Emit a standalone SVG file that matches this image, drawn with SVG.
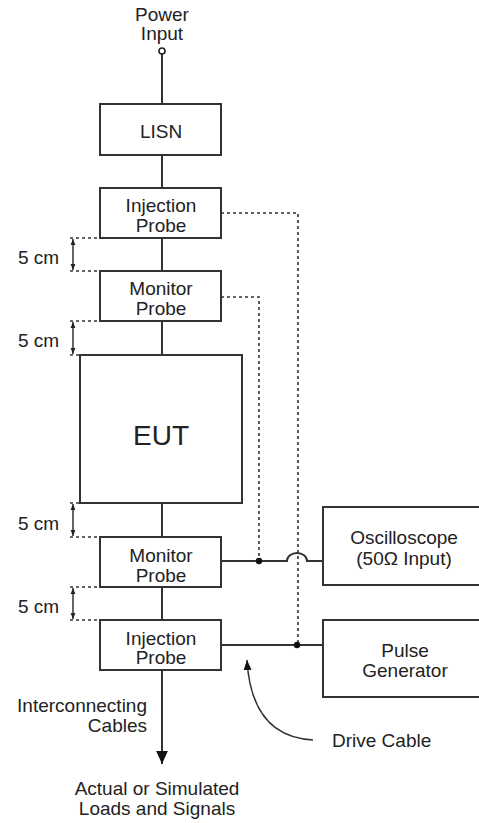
<svg xmlns="http://www.w3.org/2000/svg" width="479" height="823" viewBox="0 0 479 823">
<defs>
<style>
text{font-family:"Liberation Sans",Arial,sans-serif;font-size:19px;fill:#222}
.box{fill:#fff;stroke:#333;stroke-width:2}
.w{fill:none;stroke:#333;stroke-width:2}
.dot{fill:none;stroke:#333;stroke-width:1.6;stroke-dasharray:3 3}
.dim{fill:none;stroke:#333;stroke-width:1.5}
.c{text-anchor:middle}
</style>
<marker id="ah" viewBox="0 0 10 10" refX="10" refY="5" markerWidth="6" markerHeight="6" orient="auto-start-reverse" markerUnits="userSpaceOnUse">
<path d="M0,1 L10,5 L0,9 z" fill="#222"/>
</marker>
<marker id="big" viewBox="0 0 10 10" refX="10" refY="5" markerWidth="13" markerHeight="13" orient="auto" markerUnits="userSpaceOnUse">
<path d="M0,0.5 L10,5 L0,9.5 z" fill="#111"/>
</marker>
<marker id="mid" viewBox="0 0 10 10" refX="10" refY="5" markerWidth="10" markerHeight="10" orient="auto" markerUnits="userSpaceOnUse">
<path d="M0,1 L10,5 L0,9 z" fill="#111"/>
</marker>
</defs>
<rect width="479" height="823" fill="#fff"/>
<g id="connectors">
<line class="w" x1="162" y1="54" x2="162" y2="104"/>
<line class="w" x1="162" y1="155" x2="162" y2="188"/>
<line class="w" x1="162" y1="238" x2="162" y2="271"/>
<line class="w" x1="162" y1="321" x2="162" y2="355"/>
<line class="w" x1="162" y1="503" x2="162" y2="537"/>
<line class="w" x1="162" y1="587" x2="162" y2="620"/>
<line class="w" x1="162" y1="670" x2="162" y2="764" marker-end="url(#big)"/>
<path class="dot" d="M221 213 H298 V645"/>
<path class="dot" d="M221 297 H259 V561"/>
<path class="w" d="M221 561 H287 A10 8 0 0 1 307 561 H323"/>
<path class="w" d="M221 645 H323"/>
<circle cx="259" cy="561" r="3.2" fill="#111"/>
<circle cx="297" cy="645" r="3.2" fill="#111"/>
<path class="w" style="stroke-width:1.5" d="M313 740 C272 738 250 712 247 660" marker-end="url(#mid)"/>
<g id="dims">
<line class="dot" x1="70" y1="238" x2="100" y2="238"/>
<line class="dot" x1="70" y1="271" x2="100" y2="271"/>
<line class="dim" x1="73" y1="239" x2="73" y2="270" marker-start="url(#ah)" marker-end="url(#ah)"/>
<line class="dot" x1="70" y1="321" x2="100" y2="321"/>
<line class="dot" x1="70" y1="355" x2="132" y2="355"/>
<line class="dim" x1="73" y1="322" x2="73" y2="354" marker-start="url(#ah)" marker-end="url(#ah)"/>
<line class="dot" x1="70" y1="503" x2="132" y2="503"/>
<line class="dot" x1="70" y1="537" x2="100" y2="537"/>
<line class="dim" x1="73" y1="504" x2="73" y2="536" marker-start="url(#ah)" marker-end="url(#ah)"/>
<line class="dot" x1="70" y1="587" x2="100" y2="587"/>
<line class="dot" x1="70" y1="620" x2="100" y2="620"/>
<line class="dim" x1="73" y1="588" x2="73" y2="619" marker-start="url(#ah)" marker-end="url(#ah)"/>
</g>
</g>
<g id="power">
<circle cx="162" cy="51" r="3" fill="#fff" stroke="#222" stroke-width="1.6"/>
<text class="c" x="162" y="21">Power</text>
<text class="c" x="162" y="40">Input</text>
</g>
<g id="lisn"><rect class="box" x="100" y="104" width="121" height="51"/><text class="c" x="161" y="138">LISN</text></g>
<g id="inj-top"><rect class="box" x="100" y="188" width="121" height="50"/><text class="c" x="161" y="212">Injection</text><text class="c" x="161" y="232">Probe</text></g>
<g id="mon-top"><rect class="box" x="100" y="271" width="121" height="50"/><text class="c" x="161" y="295">Monitor</text><text class="c" x="161" y="315">Probe</text></g>
<g id="eut"><rect class="box" x="80" y="355" width="162" height="148"/><text class="c" x="161" y="445" style="font-size:28px">EUT</text></g>
<g id="mon-bot"><rect class="box" x="100" y="537" width="121" height="50"/><text class="c" x="161" y="562">Monitor</text><text class="c" x="161" y="582">Probe</text></g>
<g id="inj-bot"><rect class="box" x="100" y="620" width="121" height="50"/><text class="c" x="161" y="645">Injection</text><text class="c" x="161" y="664">Probe</text></g>
<g id="osc"><rect class="box" x="323" y="507" width="170" height="78"/><text class="c" x="404" y="544">Oscilloscope</text><text class="c" x="404" y="565">(50Ω Input)</text></g>
<g id="pulse"><rect class="box" x="323" y="620" width="170" height="77"/><text class="c" x="405" y="657">Pulse</text><text class="c" x="405" y="677">Generator</text></g>
<g id="labels">
<text x="18" y="264">5 cm</text>
<text x="18" y="347">5 cm</text>
<text x="18" y="530">5 cm</text>
<text x="18" y="613">5 cm</text>
<text x="147" y="712" text-anchor="end">Interconnecting</text>
<text x="147" y="732" text-anchor="end">Cables</text>
<text x="332" y="747">Drive Cable</text>
<text class="c" x="157" y="795">Actual or Simulated</text>
<text class="c" x="157" y="815">Loads and Signals</text>
</g>
</svg>
